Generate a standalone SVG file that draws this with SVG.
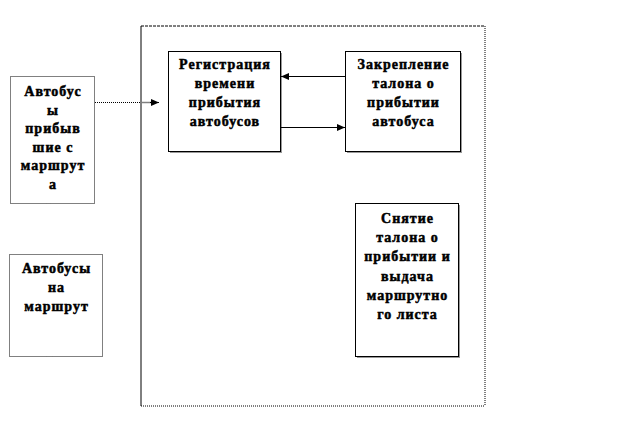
<svg xmlns="http://www.w3.org/2000/svg" width="635" height="432" viewBox="0 0 635 432">
<style>
.t{font-weight:bold;font-size:14px;letter-spacing:1px;text-anchor:middle;fill:#000;stroke:#000;stroke-width:0.5}
.box{fill:#fff;stroke:#000;stroke-width:1}
.sh{fill:#999}
.dot{fill:#fff;stroke:#000;stroke-width:1;stroke-dasharray:1 1}
.ln{stroke:#000;stroke-width:1;fill:none}
</style>
<defs>
<marker id="ah" markerWidth="8" markerHeight="8" refX="8" refY="4" orient="auto" markerUnits="userSpaceOnUse">
<path d="M0,0.5 L8,4 L0,7.5 Z" fill="#000"/>
</marker>
</defs>
<rect width="635" height="432" fill="#fff"/>
<g id="frame">
<line x1="141" y1="26" x2="485" y2="26" class="ln" stroke-dasharray="3 1"/>
<line x1="485" y1="26" x2="485" y2="406" class="ln" stroke-dasharray="1 1"/>
<line x1="141" y1="406" x2="485" y2="406" class="ln" stroke-dasharray="1 1"/>
<line x1="141" y1="26" x2="141" y2="406" class="ln"/>
</g>
<g font-family="Liberation Serif, DejaVu Serif, serif">
<g id="n1">
<rect x="10.5" y="76.5" width="84" height="127" class="dot"/>
<text class="t" x="53" y="96">Автобус</text>
<text class="t" x="53" y="114.6">ы</text>
<text class="t" x="53" y="133.2">прибыв</text>
<text class="t" x="53" y="151.8">шие с</text>
<text class="t" x="53" y="170.4">маршрут</text>
<text class="t" x="53" y="189">а</text>
</g>
<g id="n2">
<rect x="9.5" y="254.5" width="93" height="102" class="dot"/>
<text class="t" x="56.5" y="273">Автобусы</text>
<text class="t" x="56.5" y="292">на</text>
<text class="t" x="56.5" y="311">маршрут</text>
</g>
<g id="n3">
<rect x="170" y="53" width="112" height="100" class="sh"/>
<rect x="168.5" y="51.5" width="112" height="100" class="box"/>
<text class="t" x="225" y="69">Регистрация</text>
<text class="t" x="225" y="88">времени</text>
<text class="t" x="225" y="107">прибытия</text>
<text class="t" x="225" y="126">автобусов</text>
</g>
<g id="n4">
<rect x="347" y="53" width="115" height="100" class="sh"/>
<rect x="345.5" y="51.5" width="115" height="100" class="box"/>
<text class="t" x="403.5" y="69">Закрепление</text>
<text class="t" x="403.5" y="88">талона о</text>
<text class="t" x="403.5" y="107">прибытии</text>
<text class="t" x="403.5" y="126">автобуса</text>
</g>
<g id="n5">
<rect x="357" y="205" width="103" height="153" class="sh"/>
<rect x="355.5" y="203.5" width="103" height="153" class="box"/>
<text class="t" x="407.5" y="223">Снятие</text>
<text class="t" x="407.5" y="242.2">талона о</text>
<text class="t" x="407.5" y="261.4">прибытии и</text>
<text class="t" x="407.5" y="280.6">выдача</text>
<text class="t" x="407.5" y="299.8">маршрутно</text>
<text class="t" x="407.5" y="319">го листа</text>
</g>
</g>
<g id="connectors">
<line x1="95" y1="102.5" x2="140.5" y2="102.5" class="ln" stroke-dasharray="1 1"/>
<line x1="141.5" y1="102.5" x2="152" y2="102.5" stroke="#808080" stroke-width="1.5"/>
<line x1="150" y1="102.5" x2="159" y2="102.5" class="ln" marker-end="url(#ah)"/>
<line x1="345" y1="76.5" x2="281" y2="76.5" class="ln" marker-end="url(#ah)"/>
<line x1="281" y1="127.5" x2="345" y2="127.5" class="ln" marker-end="url(#ah)"/>
</g>
</svg>
